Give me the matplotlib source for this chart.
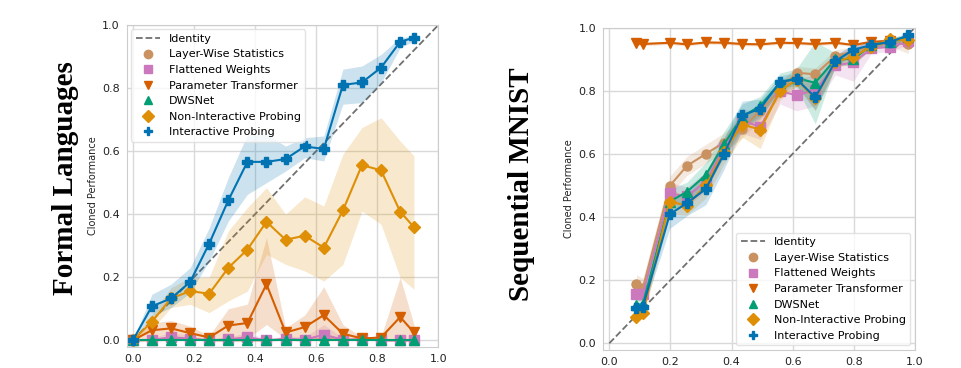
import numpy as np
import matplotlib
matplotlib.use("Agg")
import matplotlib.pyplot as plt
from matplotlib.lines import Line2D

# ---------------- DATA ----------------
methods = ["Layer-Wise Statistics", "Flattened Weights", "Parameter Transformer",
           "DWSNet", "Non-Interactive Probing", "Interactive Probing"]
colors = ["#ca9161", "#cc78bc", "#d55e00", "#029e73", "#de8f05", "#0173b2"]
markers = ["o", "s", "v", "^", "D", "P"]

# Formal Languages
fl_x = [0, 0.0625, 0.125, 0.1875, 0.25, 0.3125, 0.375, 0.4375, 0.5, 0.5625,
        0.625, 0.6875, 0.75, 0.8125, 0.875, 0.92]
fl_lws = [0, 0.0, 0.002, 0.003, 0, 0, 0, 0, 0.002, 0, 0.005, 0, 0.004, 0, 0, 0]
fl_lws_lo = [0, 0, 0, 0, 0, 0, 0, 0, 0, 0, 0, 0, 0, 0, 0, 0]
fl_lws_hi = [0, 0.005, 0.01, 0.01, 0.003, 0.003, 0.004, 0.003, 0.008, 0.003,
             0.015, 0.003, 0.01, 0.003, 0.003, 0.003]
fl_fw = [0, 0.002, 0.01, 0.005, 0.0, 0.003, 0.01, 0.0, 0.005, 0.002,
         0.018, 0.002, 0.003, 0.0, 0.0, 0.0]
fl_fw_lo = [0, 0, 0, 0, 0, 0, 0, 0, 0, 0, 0, 0, 0, 0, 0, 0]
fl_fw_hi = [0, 0.008, 0.025, 0.015, 0.004, 0.01, 0.025, 0.004, 0.015, 0.01,
            0.05, 0.008, 0.008, 0.004, 0.004, 0.004]
fl_pt = [0, 0.032, 0.038, 0.023, 0.009, 0.047, 0.055, 0.178, 0.025, 0.042,
         0.08, 0.021, 0.006, 0.009, 0.074, 0.025]
fl_pt_lo = [0, 0.01, 0.015, 0.005, 0.0, 0.0, 0.005, 0.05, 0.005, 0.01,
            0.01, 0.0, 0.0, 0.0, 0.0, 0.0]
fl_pt_hi = [0, 0.055, 0.063, 0.045, 0.015, 0.10, 0.115, 0.325, 0.04, 0.08,
            0.17, 0.05, 0.01, 0.012, 0.2, 0.05]
fl_dws = [0] * 16
fl_dws_lo = [0] * 16
fl_dws_hi = [0] * 16
fl_nip = [0, 0.059, 0.133, 0.156, 0.148, 0.23, 0.288, 0.376, 0.319, 0.332,
          0.294, 0.412, 0.556, 0.539, 0.408, 0.359]
fl_nip_lo = [0, 0.035, 0.104, 0.114, 0.088, 0.125, 0.156, 0.273, 0.241, 0.22,
             0.188, 0.241, 0.41, 0.368, 0.199, 0.162]
fl_nip_hi = [0, 0.082, 0.167, 0.199, 0.2, 0.347, 0.421, 0.484, 0.4, 0.455,
             0.426, 0.59, 0.675, 0.706, 0.632, 0.585]
fl_ip = [0, 0.108, 0.133, 0.185, 0.307, 0.444, 0.566, 0.566, 0.575, 0.615,
         0.607, 0.81, 0.818, 0.865, 0.947, 0.96]
fl_ip_lo = [0, 0.077, 0.104, 0.151, 0.252, 0.378, 0.463, 0.5, 0.537, 0.579,
            0.569, 0.749, 0.754, 0.817, 0.928, 0.949]
fl_ip_hi = [0, 0.146, 0.178, 0.23, 0.357, 0.516, 0.653, 0.653, 0.616, 0.643,
            0.648, 0.86, 0.87, 0.907, 0.96, 0.965]

# Sequential MNIST
sm_x = [0.089, 0.11, 0.198, 0.254, 0.316, 0.375, 0.435, 0.494, 0.559, 0.613,
        0.674, 0.74, 0.799, 0.858, 0.919, 0.979]
sm_lws = [0.187, 0.176, 0.499, 0.562, 0.6, 0.636, 0.68, 0.737, 0.803, 0.857,
          0.852, 0.91, 0.924, 0.942, 0.95, 0.948]
sm_lws_err = [0.03, 0.03, 0.03, 0.03, 0.03, 0.03, 0.03, 0.03, 0.025, 0.02,
              0.02, 0.02, 0.015, 0.01, 0.01, 0.03]
sm_fw = [0.155, 0.155, 0.475, 0.465, 0.512, 0.62, 0.705, 0.686, 0.798, 0.786,
         0.802, 0.88, 0.89, 0.934, 0.939, 0.956]
sm_fw_err = [0.02, 0.02, 0.035, 0.03, 0.03, 0.03, 0.04, 0.04, 0.04, 0.05,
             0.05, 0.03, 0.06, 0.015, 0.015, 0.01]
sm_pt = [0.95, 0.948, 0.952, 0.947, 0.953, 0.952, 0.948, 0.947, 0.952, 0.951,
         0.948, 0.952, 0.945, 0.955, 0.958, 0.965]
sm_pt_err = [0.005, 0.005, 0.005, 0.005, 0.005, 0.005, 0.005, 0.005, 0.005, 0.005,
             0.005, 0.005, 0.005, 0.005, 0.005, 0.005]
sm_dws = [0.121, 0.125, 0.449, 0.48, 0.533, 0.63, 0.718, 0.752, 0.826, 0.84,
          0.825, 0.9, 0.9, 0.945, 0.955, 0.97]
sm_dws_err = [0.02, 0.02, 0.04, 0.03, 0.04, 0.04, 0.04, 0.03, 0.03, 0.03,
              0.13, 0.02, 0.02, 0.01, 0.01, 0.01]
sm_nip = [0.084, 0.095, 0.449, 0.436, 0.5, 0.607, 0.693, 0.677, 0.8, 0.835,
          0.776, 0.892, 0.908, 0.94, 0.963, 0.96]
sm_nip_err = [0.015, 0.015, 0.04, 0.03, 0.04, 0.04, 0.04, 0.06, 0.03, 0.02,
              0.04, 0.02, 0.02, 0.01, 0.01, 0.01]
sm_ip = [0.111, 0.116, 0.409, 0.444, 0.489, 0.6, 0.722, 0.743, 0.828, 0.837,
         0.779, 0.894, 0.93, 0.945, 0.955, 0.975]
sm_ip_err = [0.015, 0.015, 0.045, 0.04, 0.05, 0.05, 0.045, 0.03, 0.02, 0.02,
             0.04, 0.02, 0.015, 0.01, 0.01, 0.01]

# ---------------- STYLE ----------------
plt.rcParams["font.family"] = ["DejaVu Sans"]
plt.rcParams["axes.edgecolor"] = "#cccccc"
plt.rcParams["grid.color"] = "#d9d9d9"

fig = plt.figure(figsize=(9.62, 3.68), dpi=100)
ax1 = fig.add_axes([0.1317, 0.058, 0.324, 0.874])
ax2 = fig.add_axes([0.627, 0.050, 0.324, 0.875])

fl_means = [fl_lws, fl_fw, fl_pt, fl_dws, fl_nip, fl_ip]
fl_los = [fl_lws_lo, fl_fw_lo, fl_pt_lo, fl_dws_lo, fl_nip_lo, fl_ip_lo]
fl_his = [fl_lws_hi, fl_fw_hi, fl_pt_hi, fl_dws_hi, fl_nip_hi, fl_ip_hi]

sm_means = [sm_lws, sm_fw, sm_pt, sm_dws, sm_nip, sm_ip]
sm_errs = [sm_lws_err, sm_fw_err, sm_pt_err, sm_dws_err, sm_nip_err, sm_ip_err]


def style_axes(ax):
    ax.set_xlim(-0.02, 1.0)
    ax.set_ylim(-0.02, 1.0)
    ax.set_xticks([0, 0.2, 0.4, 0.6, 0.8, 1.0])
    ax.set_yticks([0, 0.2, 0.4, 0.6, 0.8, 1.0])
    ax.grid(True, linewidth=1.0)
    ax.set_axisbelow(True)
    ax.tick_params(length=0, labelsize=8, colors="#222222", pad=5)
    for s in ax.spines.values():
        s.set_color("#cccccc")
    ax.set_ylabel("Cloned Performance", fontsize=7, color="#222222", labelpad=3)
    ax.plot([0, 1], [0, 1], "--", color="#707070", linewidth=1.3, zorder=1)


style_axes(ax1)
style_axes(ax2)

x1 = np.array(fl_x)
for m, lo, hi, c, mk in zip(fl_means, fl_los, fl_his, colors, markers):
    ax1.fill_between(x1, lo, hi, color=c, alpha=0.2, linewidth=0)
    ax1.plot(x1, m, color=c, marker=mk, markersize=6.5, linewidth=1.5)

x2 = np.array(sm_x)
for m, e, c, mk in zip(sm_means, sm_errs, colors, markers):
    m = np.array(m)
    e = np.array(e)
    ax2.fill_between(x2, m - e, m + e, color=c, alpha=0.2, linewidth=0)
    ax2.plot(x2, m, color=c, marker=mk, markersize=6.5, linewidth=1.5)

handles = [Line2D([], [], color="#707070", linestyle="--", linewidth=1.3, label="Identity")]
for name, c, mk in zip(methods, colors, markers):
    handles.append(Line2D([], [], color=c, marker=mk, linestyle="none",
                          markersize=6, label=name))

ax1.legend(handles=handles, loc="upper left", fontsize=8, framealpha=0.8,
           edgecolor="#dddddd", borderaxespad=0.4, handlelength=2.2)
ax2.legend(handles=handles, loc="lower right", fontsize=8, framealpha=0.8,
           edgecolor="#dddddd", borderaxespad=0.4, handlelength=2.2)

fig.text(0.068, 0.515, "Formal Languages", rotation=90, ha="center", va="center",
         fontsize=21, fontweight="bold", family="Liberation Serif")
fig.text(0.542, 0.50, "Sequential MNIST", rotation=90, ha="center", va="center",
         fontsize=21, fontweight="bold", family="Liberation Serif")

fig.savefig("out.png", dpi=100)
